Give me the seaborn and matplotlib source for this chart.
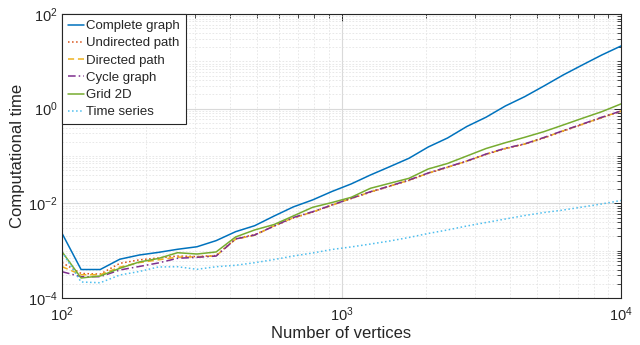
import numpy as np
import pandas as pd
import matplotlib
matplotlib.use("Agg")
import matplotlib.pyplot as plt
import seaborn as sns
from matplotlib.ticker import LogLocator, NullFormatter

vertices = [100, 117, 137, 161, 189, 221, 259, 304, 356, 418, 489, 574, 672, 788, 924,
            1083, 1269, 1487, 1743, 2043, 2395, 2807, 3290, 3857, 4520, 5298, 6210, 7279, 8532, 10000]

complete_graph = [2.33e-3, 4.0e-4, 4.0e-4, 6.6e-4, 8.1e-4, 9.2e-4, 1.07e-3, 1.21e-3, 1.63e-3, 2.52e-3,
                  3.37e-3, 5.4e-3, 8.4e-3, 1.18e-2, 1.78e-2, 2.57e-2, 3.97e-2, 5.94e-2, 8.95e-2, 0.155,
                  0.240, 0.42, 0.66, 1.14, 1.79, 3.01, 5.15, 8.4, 13.6, 21.1]
undirected_path = [5.6e-4, 3.3e-4, 3.2e-4, 5.4e-4, 6.4e-4, 7.0e-4, 7.7e-4, 7.5e-4, 7.9e-4, 1.80e-3,
                   2.18e-3, 3.30e-3, 4.90e-3, 6.50e-3, 9.3e-3, 1.26e-2, 1.72e-2, 2.30e-2, 3.05e-2, 4.30e-2,
                   5.75e-2, 7.75e-2, 0.108, 0.143, 0.178, 0.240, 0.335, 0.465, 0.645, 0.88]
directed_path = [4.6e-4, 3.1e-4, 3.1e-4, 4.5e-4, 5.6e-4, 6.4e-4, 7.3e-4, 7.4e-4, 7.8e-4, 1.75e-3,
                 2.12e-3, 3.35e-3, 4.95e-3, 6.55e-3, 9.1e-3, 1.27e-2, 1.74e-2, 2.31e-2, 3.08e-2, 4.35e-2,
                 5.80e-2, 7.80e-2, 0.109, 0.145, 0.179, 0.243, 0.340, 0.470, 0.650, 0.89]
cycle_graph = [3.6e-4, 2.82e-4, 2.82e-4, 3.91e-4, 4.64e-4, 5.50e-4, 6.9e-4, 7.24e-4, 7.7e-4, 1.77e-3,
               2.14e-3, 3.32e-3, 5.02e-3, 6.65e-3, 9.2e-3, 1.28e-2, 1.76e-2, 2.32e-2, 3.11e-2, 4.38e-2,
               5.86e-2, 7.85e-2, 0.110, 0.146, 0.180, 0.246, 0.343, 0.474, 0.658, 0.893]
grid_2d = [9.5e-4, 2.65e-4, 2.92e-4, 4.24e-4, 5.77e-4, 6.84e-4, 9.06e-4, 8.5e-4, 9.4e-4, 1.95e-3,
           2.74e-3, 3.57e-3, 5.41e-3, 8.24e-3, 1.04e-2, 1.34e-2, 2.08e-2, 2.65e-2, 3.38e-2, 5.32e-2,
           6.95e-2, 0.100, 0.144, 0.191, 0.248, 0.327, 0.452, 0.627, 0.863, 1.26]
time_series = [9.4e-4, 2.18e-4, 2.10e-4, 3.06e-4, 3.63e-4, 4.52e-4, 4.58e-4, 4.04e-4, 4.58e-4, 4.91e-4,
               5.57e-4, 6.50e-4, 7.7e-4, 8.93e-4, 1.06e-3, 1.20e-3, 1.38e-3, 1.60e-3, 1.90e-3, 2.31e-3,
               2.74e-3, 3.32e-3, 3.94e-3, 4.67e-3, 5.53e-3, 6.40e-3, 7.22e-3, 8.37e-3, 9.7e-3, 1.15e-2]

series = {
    "Complete graph": complete_graph,
    "Undirected path": undirected_path,
    "Directed path": directed_path,
    "Cycle graph": cycle_graph,
    "Grid 2D": grid_2d,
    "Time series": time_series,
}
colors = ["#0072BD", "#D95319", "#EDB120", "#7E2F8E", "#77AC30", "#4DBEEE"]
styles = ["-", ":", (0, (4, 2.5)), (0, (5, 2, 1, 2)), "-", ":"]

sns.set_theme(style="white")
plt.rcParams['font.family'] = ['Liberation Sans', 'DejaVu Sans']
plt.rcParams['mathtext.fontset'] = 'custom'
plt.rcParams['mathtext.rm'] = 'Liberation Sans'
plt.rcParams['mathtext.it'] = 'Liberation Sans'

fig = plt.figure(figsize=(6.4, 3.45), dpi=100)
ax = fig.add_axes([0.0969, 0.1362, 0.8734, 0.8232])

for (name, vals), c, ls in zip(series.items(), colors, styles):
    df = pd.DataFrame({"Number of vertices": vertices, "Computational time": vals})
    sns.lineplot(data=df, x="Number of vertices", y="Computational time", ax=ax,
                 color=c, linestyle=ls, linewidth=1.1, label=name)

ax.set_xscale("log")
ax.set_yscale("log")
ax.set_xlim(100, 10000)
ax.set_ylim(1e-4, 1e2)
ax.xaxis.set_major_locator(LogLocator(base=10, numticks=10))
ax.yaxis.set_major_locator(LogLocator(base=100, numticks=10))
ax.yaxis.set_minor_locator(LogLocator(base=10, subs=np.arange(1, 10), numticks=20))
ax.xaxis.set_minor_locator(LogLocator(base=10, subs=np.arange(2, 10), numticks=20))
ax.yaxis.set_minor_formatter(NullFormatter())
ax.xaxis.set_minor_formatter(NullFormatter())

ax.grid(True, which="major", color="#d9d9d9", linewidth=0.8, linestyle="-")
ax.grid(True, which="minor", color="#e4e4e4", linewidth=0.6, linestyle=(0, (2, 2)))

ax.tick_params(which="both", direction="in", top=True, right=True, colors="#262626",
               labelcolor="#262626")
ax.tick_params(which="major", length=5, width=0.7, labelsize=10.5, pad=3)
ax.tick_params(axis="x", which="major", pad=5)
ax.tick_params(which="minor", length=3, width=0.6)
for s in ax.spines.values():
    s.set_color("#262626")
    s.set_linewidth(0.8)

ax.set_xlabel("Number of vertices", fontsize=12, color="#262626", labelpad=2)
ax.set_ylabel("Computational time", fontsize=12, color="#262626")
ax.yaxis.set_label_coords(-0.066, 0.5)

leg = ax.legend(loc="upper left", fontsize=9.5, frameon=True, fancybox=False,
                framealpha=1, edgecolor="#262626", borderaxespad=0.0,
                handlelength=1.25, handletextpad=0.15, labelspacing=0.38,
                borderpad=0.45)
leg.get_frame().set_linewidth(0.8)

fig.savefig("out.png", dpi=100)
